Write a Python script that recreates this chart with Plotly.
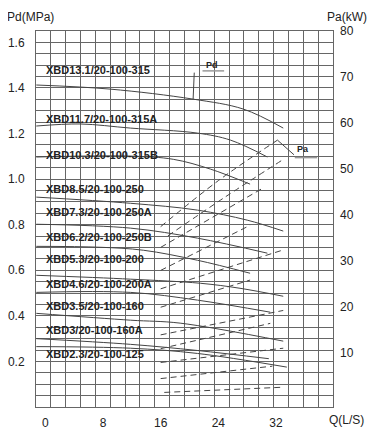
import plotly.graph_objects as go

# ---------------- data ----------------
models = ["XBD13.1/20-100-315", "XBD11.7/20-100-315A", "XBD10.3/20-100-315B",
          "XBD8.5/20-100-250", "XBD7.3/20-100-250A", "XBD6.2/20-100-250B",
          "XBD5.3/20-100-200", "XBD4.6/20-100-200A", "XBD3.5/20-100-160",
          "XBD3/20-100-160A", "XBD2.3/20-100-125"]

# Pd (MPa) vs Q (L/s)
pd_q = [
    [-1.25, 9.0, 20.5, 27.5, 33.0],
    [-1.25, 4.85, 11.8, 21.1, 25.7, 30.8],
    [-1.25, 11.8, 17.75, 22.9, 28.4],
    [-1.25, 11.8, 21.1, 28.0, 33.0],
    [-1.25, 11.8, 21.1, 30.8],
    [-1.25, 7.6, 13.6, 21.1, 28.4],
    [-1.25, 11.8, 21.5, 27.0, 33.0],
    [-1.25, 11.8, 21.1, 31.2],
    [-1.25, 11.8, 18.7, 33.0],
    [-1.25, 11.8, 21.1, 31.0],
    [-1.25, 11.8, 21.1, 33.5],
]
pd_p = [
    [1.413, 1.395, 1.351, 1.307, 1.224],
    [1.233, 1.242, 1.224, 1.202, 1.171, 1.097],
    [1.097, 1.101, 1.087, 1.044, 0.978],
    [0.921, 0.894, 0.864, 0.820, 0.772],
    [0.802, 0.785, 0.741, 0.675],
    [0.705, 0.701, 0.688, 0.644, 0.587],
    [0.578, 0.561, 0.543, 0.521, 0.486],
    [0.503, 0.503, 0.469, 0.416],
    [0.411, 0.381, 0.368, 0.289],
    [0.300, 0.275, 0.248, 0.212],
    [0.265, 0.258, 0.235, 0.175],
]

# Pa (kW) vs Q (L/s)
pa_q = [
    [16.0, 24.0, 32.2],
    [17.0, 25.0, 32.9],
    [16.0, 30.2],
    [16.0, 28.4],
    [16.0, 32.9],
    [16.0, 28.4],
    [16.0, 33.0],
    [16.0, 31.2],
    [16.0, 33.0],
    [16.0, 31.5],
    [16.5, 32.6],
]
pa_kw = [
    [37.5, 47.5, 56.3],
    [35.5, 44.0, 52.0],
    [33.0, 45.9],
    [28.0, 37.8],
    [24.0, 32.4],
    [20.0, 25.9],
    [14.0, 19.3],
    [11.0, 16.5],
    [8.0, 11.1],
    [4.5, 7.2],
    [1.5, 2.6],
]

# label positions (Q, Pd) for model names
label_q = [-0.15] * 11
label_p = [1.477, 1.264, 1.108, 0.956, 0.854, 0.746, 0.648, 0.538, 0.442, 0.336, 0.231]

x_ticks = [0, 8, 16, 24, 32]
y_ticks = [0.2, 0.4, 0.6, 0.8, 1.0, 1.2, 1.4, 1.6]
y2_ticks = [10, 20, 30, 40, 50, 60, 70, 80]

# ---------------- figure ----------------
LINE = "#444444"
GRID = "#666666"
TXT = "#222222"
FONT = "Liberation Sans, Arial"
fig = go.Figure()

for q, p in zip(pd_q, pd_p):
    fig.add_trace(go.Scatter(x=q, y=p, mode="lines", line=dict(color=LINE, width=1, shape="spline"),
                             hoverinfo="skip", showlegend=False))
for q, k in zip(pa_q, pa_kw):
    fig.add_trace(go.Scatter(x=q, y=k, mode="lines", yaxis="y2",
                             line=dict(color=LINE, width=1, dash="6px,4px", shape="spline"),
                             hoverinfo="skip", showlegend=False))

for name, lq, lp in zip(models, label_q, label_p):
    fig.add_annotation(x=lq, y=lp, text="<b>" + name + "</b>", showarrow=False,
                       xanchor="left", yanchor="middle",
                       font=dict(family=FONT, size=11, color=TXT))

# Pd / Pa callouts
fig.add_annotation(x=20.5, y=1.351, ax=1.2, ay=-28, text="", showarrow=True,
                   arrowhead=0, arrowwidth=1, arrowcolor=LINE)
fig.add_annotation(x=23.1, y=1.50, text="<b>Pd</b>", showarrow=False,
                   font=dict(family=FONT, size=9, color=TXT))
fig.add_shape(type="line", x0=21.8, x1=24.8, y0=1.475, y1=1.475, line=dict(color="#999", width=1.5))

fig.add_annotation(x=32.2, y=56.3, yref="y2", ax=18, ay=16, text="", showarrow=True,
                   arrowhead=0, arrowwidth=1, arrowcolor=LINE)
fig.add_annotation(x=35.8, y=54.4, yref="y2", text="<b>Pa</b>", showarrow=False,
                   font=dict(family=FONT, size=9, color=TXT))
fig.add_shape(type="line", x0=34.6, x1=37.7, y0=52.5, y1=52.5, yref="y2",
              line=dict(color="#999", width=1.5))

# axis titles
fig.add_annotation(x=-0.017, y=1.037, xref="paper", yref="paper", text="Pd(MPa)",
                   xanchor="center", yanchor="middle",
                   showarrow=False, font=dict(size=12, color=TXT, family=FONT))
fig.add_annotation(x=1.047, y=1.037, xref="paper", yref="paper", text="Pa(kW)",
                   xanchor="center", yanchor="middle",
                   showarrow=False, font=dict(size=12, color=TXT, family=FONT))
fig.add_annotation(x=1.047, y=-0.035, xref="paper", yref="paper", text="Q(L/S)",
                   xanchor="center", yanchor="middle",
                   showarrow=False, font=dict(size=12, color=TXT, family=FONT))

# the page body has an 8px margin, so the figure is 8px smaller and margins compensate
fig.update_layout(
    width=375, height=432,
    margin=dict(l=28, r=50, t=23, b=33, autoexpand=False),
    paper_bgcolor="white", plot_bgcolor="white",
    font=dict(family=FONT, size=12, color=TXT),
    xaxis=dict(range=[-1.29, 39.9], tickvals=x_ticks, showgrid=False, zeroline=False,
               ticks="", ticklabelstandoff=5, automargin=False,
               showline=True, linecolor=GRID, mirror=True,
               minor=dict(tick0=-1.29, dtick=2.0595, showgrid=True, gridcolor=GRID, gridwidth=1)),
    yaxis=dict(range=[0, 1.65], tickvals=y_ticks, ticktext=[f"{v:.1f}" for v in y_ticks],
               showgrid=True, gridcolor=GRID, zeroline=False, ticks="", ticklabelstandoff=8,
               automargin=False, showline=True, linecolor=GRID, mirror=True,
               minor=dict(dtick=0.05, tick0=0, showgrid=True, gridcolor=GRID, gridwidth=1)),
    yaxis2=dict(range=[-1.67, 80], tickvals=y2_ticks, overlaying="y", side="right",
                showgrid=False, zeroline=False, ticks="", ticklabelstandoff=6, automargin=False),
)

fig.write_html("out.html")
